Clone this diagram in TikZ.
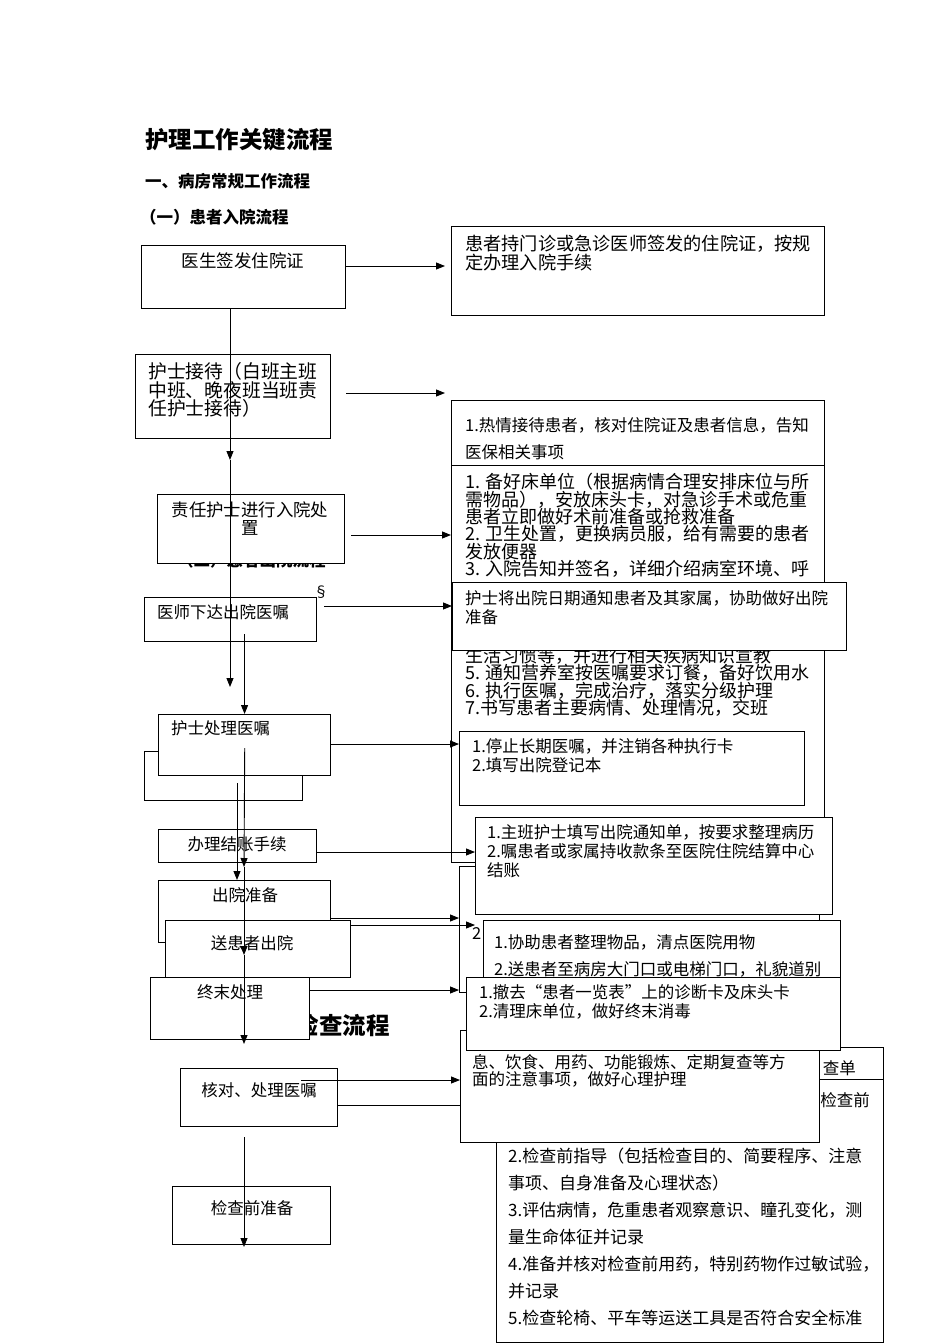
\documentclass[tikz,border=0pt]{standalone}
\usepackage{fontspec}
\usetikzlibrary{arrows.meta, positioning, calc}
\newfontfamily\cjk{Noto Sans CJK SC}

\begin{document}
\begin{tikzpicture}[
	x=1pt, y=-1pt,
	box/.style={rectangle, draw=black, line width=1.1pt, fill=white, anchor=north west, inner sep=0pt},
	txt/.style={inner sep=0pt, align=left, anchor=north west, font=\cjk\fontsize{16.5}{19}\selectfont},
	txtw/.style={txt, font=\cjk\fontsize{16.5}{27}\selectfont},
	txtn/.style={txt, font=\cjk\fontsize{18}{17.4}\selectfont},
	txtc/.style={inner sep=0pt, anchor=center, font=\cjk\fontsize{16.5}{19}\selectfont},
	title/.style={inner sep=0pt, anchor=west, font=\cjk\bfseries\fontsize{23.5}{26}\selectfont},
	head/.style={inner sep=0pt, anchor=west, font=\cjk\bfseries\fontsize{16.5}{19}\selectfont},
	arrow/.style={-{Triangle[length=9pt,width=7pt]}, line width=0.9pt},
	link/.style={line width=0.9pt}
]
\useasboundingbox (0,0) rectangle (950,1344);
\fill[white] (0,0) rectangle (950,1344);

% Titles
\node (title) [title] at (145,140) {护理工作关键流程};
\node (sec_one) [head] at (145,181) {一、病房常规工作流程};
\node (sub_in) [head] at (140,217) {（一）患者入院流程};
\node (sub_out) [head] at (177,560) {（二）患者出院流程};
\node (sub_check) [title, anchor=east] at (390,1025) {检查流程};

% Left column: steps
\node (sign) [box, minimum width=204pt, minimum height=63pt] at (141,245) {};
\node (sign_txt) [txtc, font=\cjk\fontsize{17.5}{19}\selectfont] at (243,261) {医生签发住院证};

\node (receive) [box, minimum width=195pt, minimum height=84pt] at (135,354) {};
\node (receive_txt) [txt, font=\cjk\fontsize{18.8}{17}\selectfont] at (148,362) {护士接待（白班主班\\中班、晚夜班当班责\\任护士接待）};

\node (admit) [box, minimum width=187pt, minimum height=69pt] at (157,494) {};
\node (admit_txt) [txt, align=center, anchor=north, font=\cjk\fontsize{17.4}{18}\selectfont] at (250,502) {责任护士进行入院处\\置};

\node (order) [box, minimum width=172pt, minimum height=44pt] at (144,597) {};
\node (order_txt) [txt, anchor=west] at (157,612) {医师下达出院医嘱};
\node (mark) [txtc, font=\cjk\fontsize{15}{16}\selectfont] at (321,592) {§};

\node (handle_bg) [box, minimum width=158pt, minimum height=49pt] at (144,751) {};
\node (handle) [box, minimum width=172pt, minimum height=61pt] at (158,714) {};
\node (handle_txt) [txt, anchor=west] at (171,728) {护士处理医嘱};

\node (settle) [box, minimum width=158pt, minimum height=33pt] at (158,829) {};
\node (settle_txt) [txtc] at (237,844) {办理结账手续};

\node (prepare) [box, minimum width=172pt, minimum height=62pt] at (158,880) {};
\node (prepare_txt) [txtc] at (245,895) {出院准备};

\node (send) [box, minimum width=185pt, minimum height=57pt] at (165,920) {};
\node (send_txt) [txtc] at (252,943) {送患者出院};

\node (final) [box, minimum width=159pt, minimum height=62pt] at (150,977) {};
\node (final_txt) [txtc] at (230,992) {终末处理};

\node (verify) [box, minimum width=157pt, minimum height=58pt] at (180,1068) {};
\node (verify_txt) [txtc] at (259,1090) {核对、处理医嘱};

\node (precheck) [box, minimum width=158pt, minimum height=58pt] at (172,1186) {};
\node (precheck_txt) [txtc] at (252,1208) {检查前准备};

% Right column: details
\node (sign_info) [box, minimum width=373pt, minimum height=89pt] at (451,226) {};
\node (sign_info_txt) [txt, font=\cjk\fontsize{18.2}{19}\selectfont] at (465,235) {患者持门诊或急诊医师签发的住院证，按规\\定办理入院手续};

\node (receive_info) [box, minimum width=373pt, minimum height=462pt] at (451,400) {};
\draw [link] (receive_info.west |- 0,465) -- (receive_info.east |- 0,465);
\node (receive_info_txt) [txtw] at (465,417.5) {1.热情接待患者，核对住院证及患者信息，告知\\医保相关事项};
\node (admit_info_txt) [txtn] at (465,473) {1. 备好床单位（根据病情合理安排床位与所\\需物品），安放床头卡，对急诊手术或危重\\患者立即做好术前准备或抢救准备\\2. 卫生处置，更换病员服，给有需要的患者\\发放便器\\3. 入院告知并签名，详细介绍病室环境、呼};
\node (admit_info_more) [txtn] at (465,647) {生活习惯等，并进行相关疾病知识宣教\\5. 通知营养室按医嘱要求订餐，备好饮用水\\6. 执行医嘱，完成治疗，落实分级护理\\7.书写患者主要病情、处理情况，交班};

\node (notify_info) [box, minimum width=394pt, minimum height=68pt] at (452,582) {};
\node (notify_info_txt) [txt] at (465,590.5) {护士将出院日期通知患者及其家属，协助做好出院\\准备};

\node (stop_info) [box, minimum width=345pt, minimum height=74pt] at (459,731) {};
\node (stop_info_txt) [txt] at (472,738.5) {1.停止长期医嘱，并注销各种执行卡\\2.填写出院登记本};

\node (check_info) [box, minimum width=387pt, minimum height=295pt] at (496,1047) {};
\draw [link] (check_info.west |- 0,1079) -- (check_info.east |- 0,1079);
\node (check_info_a) [txtc, anchor=east] at (856,1068) {查单};
\node (check_info_b) [txtc, anchor=east] at (870,1100) {检查前};
\node (check_info_txt) [txtw, font=\cjk\fontsize{17}{27}\selectfont] at (508,1147.5) {2.检查前指导（包括检查目的、简要程序、注意\\事项、自身准备及心理状态）\\3.评估病情，危重患者观察意识、瞳孔变化，测\\量生命体征并记录\\4.准备并核对检查前用药，特别药物作过敏试验，\\并记录\\5.检查轮椅、平车等运送工具是否符合安全标准};

\node (guide_info) [box, minimum width=359pt, minimum height=112pt] at (460,1030) {};
\node (guide_info_txt) [txt, font=\cjk\fontsize{16.5}{17}\selectfont] at (472,1054.5) {息、饮食、用药、功能锻炼、定期复查等方\\面的注意事项，做好心理护理};

\node (prep_info) [box, minimum width=360pt, minimum height=126pt] at (459,866) {};
\node (prep_info_txt) [txt, anchor=west] at (472,933) {2};

\node (bill_info) [box, minimum width=357pt, minimum height=97pt] at (475,817) {};
\node (bill_info_txt) [txt] at (487,824.5) {1.主班护士填写出院通知单，按要求整理病历\\2.嘱患者或家属持收款条至医院住院结算中心\\结账};

\node (send_info) [box, minimum width=357pt, minimum height=70pt] at (483,920) {};
\node (send_info_txt) [txtw] at (494,934.5) {1.协助患者整理物品，清点医院用物\\2.送患者至病房大门口或电梯门口，礼貌道别};

\node (final_info) [box, minimum width=374pt, minimum height=73pt] at (466,977) {};
\node (final_info_txt) [txt] at (479,984.5) {1.撤去“患者一览表”上的诊断卡及床头卡\\2.清理床单位，做好终末消毒};

% Main flow arrows
\coordinate (j1) at (230,460);
\coordinate (j2) at (230,687);
\coordinate (j3) at (244,867);
\coordinate (j4) at (244,955);
\coordinate (j5) at (244,1044);
\coordinate (j6) at (237,783);
\coordinate (j7) at (244,1137);
\coordinate (j8) at (244,1247);
\draw [arrow] (sign.south -| j1) -- (j1);
\draw [arrow] (j1) -- (j2);
\draw [arrow, shorten <=-8pt] (order.south -| handle.north) -- (handle.north);
\draw [arrow, shorten <=-28pt] (handle.south) -- (j3);
\draw [arrow] (j3) -- (j4);
\draw [arrow] (j4) -- (j5);
\draw [arrow] (j6) -- (j6 |- prepare.north);
\draw [arrow] (j7) -- (j8);

% Arrows to details
\draw [arrow, shorten >=6pt] (sign.east |- 0,266) -- (sign_info.west |- 0,266);
\draw [arrow, shorten <=15pt, shorten >=6pt] (receive.east |- 0,393) -- (receive_info.west |- 0,393);
\draw [arrow, shorten <=6pt] (admit.east |- 0,535) -- (receive_info.west |- 0,535);
\draw [arrow, shorten <=7pt] (order.east |- 0,606) -- (notify_info.west |- 0,606);
\draw [arrow] (handle.east |- 0,744) -- (stop_info.west |- 0,744);
\draw [arrow] (settle.east |- 0,852) -- (bill_info.west |- 0,852);
\draw [arrow] (prepare.east |- 0,918) -- (prep_info.west |- 0,918);
\draw [arrow, shorten >=8pt] (send.east |- 0,925) -- (send_info.west |- 0,925);
\draw [arrow] (final.east |- 0,990) -- (prep_info.west |- 0,990);
\draw [arrow, shorten <=-37pt] (verify.east |- 0,1080) -- (guide_info.west |- 0,1080);
\draw [link] (verify.east |- 0,1105) -- (guide_info.west |- 0,1105);

\end{tikzpicture}
\end{document}
